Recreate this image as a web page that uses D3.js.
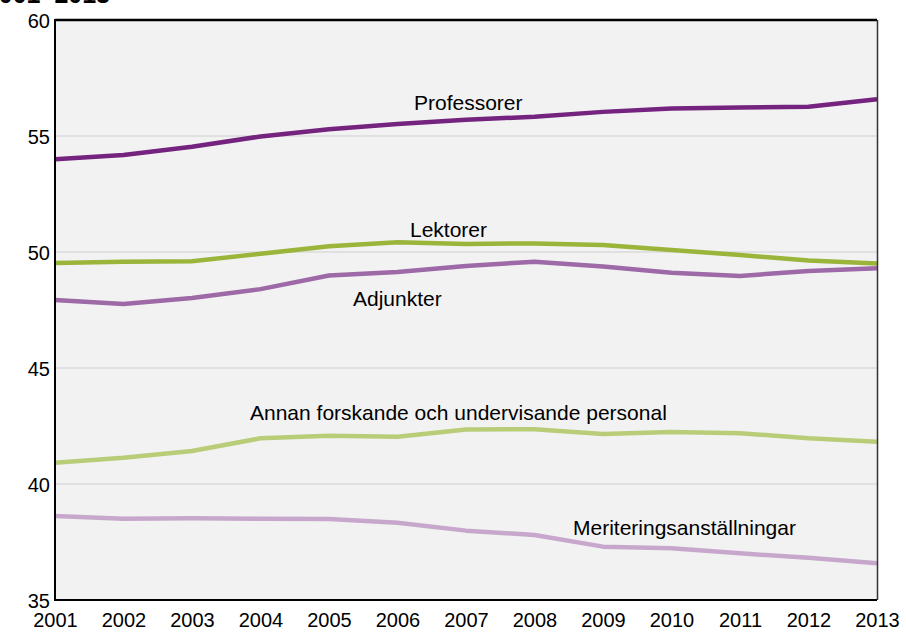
<!DOCTYPE html>
<html>
<head>
<meta charset="utf-8">
<script src="https://cdn.jsdelivr.net/npm/d3@7"></script>
<style>
  html, body { margin: 0; padding: 0; background: #ffffff; }
  svg { display: block; font-family: Arial, "Liberation Sans", sans-serif; }
</style>
</head>
<body>
<svg id="chart" width="906" height="635"></svg>
<script>
const years = [2001, 2002, 2003, 2004, 2005, 2006, 2007, 2008, 2009, 2010, 2011, 2012, 2013];
const yTicks = [35, 40, 45, 50, 55, 60];

const professorer = [54.0, 54.18, 54.54, 54.98, 55.29, 55.52, 55.7, 55.83, 56.04, 56.19, 56.23, 56.26, 56.58];
const lektorer    = [49.53, 49.58, 49.6, 49.92, 50.25, 50.42, 50.35, 50.37, 50.3, 50.09, 49.87, 49.63, 49.5];
const adjunkter   = [47.93, 47.76, 48.02, 48.4, 48.99, 49.14, 49.4, 49.58, 49.37, 49.11, 48.97, 49.18, 49.3];
const annan       = [40.92, 41.13, 41.42, 41.97, 42.08, 42.04, 42.35, 42.36, 42.16, 42.24, 42.19, 41.97, 41.82];
const meritering  = [38.62, 38.5, 38.52, 38.5, 38.49, 38.33, 37.99, 37.8, 37.3, 37.23, 37.01, 36.82, 36.58];

const seriesNames  = ["Professorer", "Lektorer", "Adjunkter", "Annan forskande och undervisande personal", "Meriteringsanställningar"];
const seriesValues = [professorer, lektorer, adjunkter, annan, meritering];
const seriesColors = ["#74237f", "#9bb43a", "#9d69a7", "#b9cd78", "#c8a7cd"];
const title = "Medelålder för forskande och undervisande personal 2001–2013";

const svg = d3.select("#chart");
const pLeft = 55, pRight = 877, pTop = 20, pBottom = 600;

const x = d3.scaleLinear().domain([2001, 2013]).range([pLeft, pRight]);
const y = d3.scaleLinear().domain([35, 60]).range([pBottom, pTop]);

// cut-off title (only its lower edge shows, as in the reference)
svg.append("text")
  .attr("x", 110).attr("y", 3)
  .attr("text-anchor", "end")
  .attr("font-weight", "bold")
  .attr("font-size", 25)
  .attr("fill", "#000")
  .text(title);

// plot background
svg.append("rect")
  .attr("x", pLeft).attr("y", pTop)
  .attr("width", pRight - pLeft).attr("height", pBottom - pTop)
  .attr("fill", "#f2f2f2");

// gridlines
svg.append("g")
  .selectAll("line")
  .data(yTicks.filter(t => t > 35 && t < 60))
  .join("line")
  .attr("x1", pLeft).attr("x2", pRight)
  .attr("y1", d => y(d)).attr("y2", d => y(d))
  .attr("stroke", "#dadada")
  .attr("stroke-width", 1.5);

// y axis labels
const yAxis = d3.axisLeft(y).tickValues(yTicks).tickSize(0).tickPadding(4);
const gy = svg.append("g").attr("transform", `translate(${pLeft - 1},0)`).call(yAxis);
gy.select(".domain").remove();
gy.selectAll("text").attr("font-size", 20).attr("fill", "#000")
  .attr("font-family", "Arial, 'Liberation Sans', sans-serif").attr("dy", "0.35em");

// x axis labels
const xAxis = d3.axisBottom(x).tickValues(years).tickFormat(d3.format("d")).tickSize(0).tickPadding(13);
const gx = svg.append("g").attr("transform", `translate(0,${pBottom})`).call(xAxis);
gx.select(".domain").remove();
gx.selectAll("text").attr("font-size", 20).attr("fill", "#000")
  .attr("font-family", "Arial, 'Liberation Sans', sans-serif");

// lines
const line = d3.line().x((d, i) => x(years[i])).y(d => y(d));
const order = [4, 3, 2, 1, 0];
order.forEach(k => {
  svg.append("path")
    .datum(seriesValues[k])
    .attr("d", line)
    .attr("fill", "none")
    .attr("stroke", seriesColors[k])
    .attr("stroke-width", 4.5)
    .attr("stroke-linejoin", "round");
});

// plot border
svg.append("line").attr("x1", pLeft).attr("x2", pRight).attr("y1", pTop).attr("y2", pTop)
  .attr("stroke", "#000").attr("stroke-width", 2.5);
svg.append("line").attr("x1", pLeft).attr("x2", pLeft).attr("y1", pTop - 1).attr("y2", pBottom + 1)
  .attr("stroke", "#000").attr("stroke-width", 2);
svg.append("line").attr("x1", pLeft - 1).attr("x2", pRight).attr("y1", pBottom).attr("y2", pBottom)
  .attr("stroke", "#000").attr("stroke-width", 2);
svg.append("line").attr("x1", pRight + 0.5).attr("x2", pRight + 0.5).attr("y1", pTop).attr("y2", pBottom)
  .attr("stroke", "#333").attr("stroke-width", 1.5);

// series labels
const labelPos = [
  { x: 414, y: 110 },
  { x: 410, y: 237 },
  { x: 353, y: 306 },
  { x: 250, y: 420 },
  { x: 573, y: 535 }
];
svg.append("g")
  .selectAll("text")
  .data(seriesNames)
  .join("text")
  .attr("x", (d, i) => labelPos[i].x)
  .attr("y", (d, i) => labelPos[i].y)
  .attr("font-size", 21)
  .attr("fill", "#000")
  .text(d => d);
</script>
</body>
</html>
